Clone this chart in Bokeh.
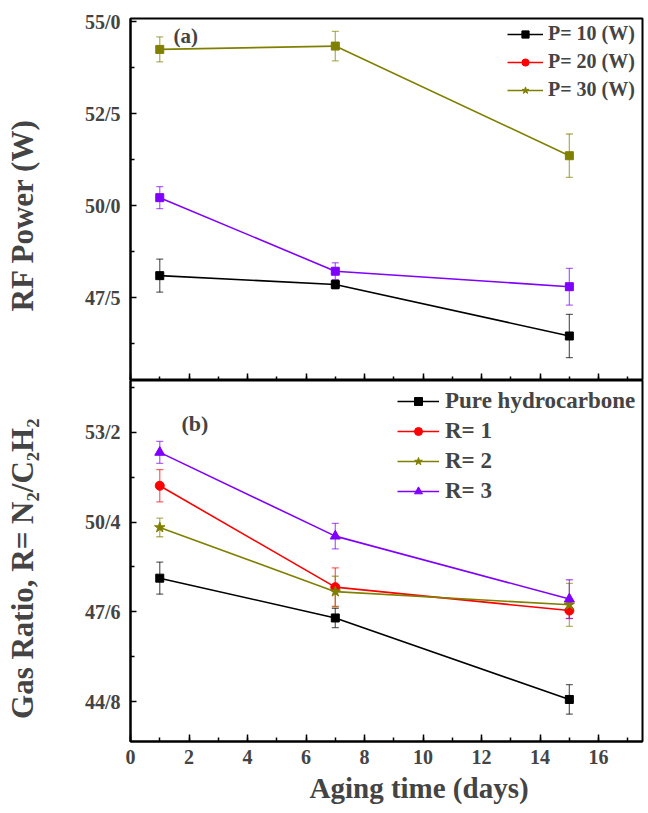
from bokeh.plotting import figure
from bokeh.models import (ColumnDataSource, Range1d, FixedTicker, SingleIntervalTicker,
                          CustomJSTickFormatter, Whisker, TeeHead, Legend, LegendItem,
                          Label, Title)
from bokeh.layouts import column
from bokeh.embed import file_html
from bokeh.resources import INLINE

# ---------------- data ----------------
days = [1, 7, 15]

power_labels = ["P= 10 (W)", "P= 20 (W)", "P= 30 (W)"]
p10 = [48.10, 47.86, 46.46]
p10_err = [0.45, 0.12, 0.59]
p20 = [50.22, 48.22, 47.80]
p20_err = [0.30, 0.23, 0.50]
p30 = [54.25, 54.34, 51.36]
p30_err = [0.34, 0.40, 0.59]

ratio_labels = ["Pure hydrocarbone", "R= 1", "R= 2", "R= 3"]
pure = [48.65, 47.41, 44.87]
pure_err = [0.50, 0.30, 0.46]
r1 = [51.53, 48.37, 47.64]
r1_err = [0.50, 0.60, 0.25]
r2 = [50.23, 48.23, 47.82]
r2_err = [0.29, 0.48, 0.67]
r3 = [52.57, 49.96, 48.00]
r3_err = [0.34, 0.40, 0.60]

top_ticks = [47.5, 50.0, 52.5, 55.0]
top_minor = [46.25, 48.75, 51.25, 53.75]
bot_ticks = [44.8, 47.6, 50.4, 53.2]
bot_minor = [46.2, 49.0, 51.8, 54.6]

x_title = "Aging time (days)"
top_ylabel = "RF Power (W)"
bot_ylabel = "Gas Ratio, R= N\u2082/C\u2082H\u2082"

# ---------------- style ----------------
FONT = "Liberation Serif"
BLACK = "#000000"
RED = "#ff0000"
OLIVE = "#808000"
PURPLE = "#8000ff"
NBSP = "\u00a0"

xr = Range1d(0, 17.5)
fmt = CustomJSTickFormatter(code="return tick.toFixed(1).replace('.', '/');")


def make_fig(height, yr, ticks, minor, b_top, b_bottom, ylabel):
    p = figure(width=648, height=height, x_range=xr, y_range=Range1d(*yr),
               output_backend="svg", toolbar_location=None,
               min_border_left=130, min_border_right=6,
               min_border_top=b_top, min_border_bottom=b_bottom)
    p.grid.visible = False
    p.outline_line_color = "black"
    p.outline_line_width = 2
    p.background_fill_color = "white"
    p.border_fill_color = "white"

    ya = p.yaxis[0]
    ya.ticker = FixedTicker(ticks=ticks, minor_ticks=minor)
    ya.formatter = fmt
    ya.axis_line_width = 2
    ya.major_tick_in = 6
    ya.major_tick_out = 0
    ya.minor_tick_in = 4
    ya.minor_tick_out = 0
    ya.major_tick_line_width = 1.5
    ya.minor_tick_line_width = 1.5
    ya.major_label_text_font = FONT
    ya.major_label_text_font_style = "bold"
    ya.major_label_text_font_size = "20px"
    ya.major_label_standoff = 10
    ya.axis_label = ylabel
    ya.axis_label_text_font = FONT
    ya.axis_label_text_font_style = "bold"
    ya.axis_label_text_font_size = "31px"
    ya.axis_label_standoff = 42

    xa = p.xaxis[0]
    xa.ticker = SingleIntervalTicker(interval=2, num_minor_ticks=2)
    xa.axis_line_width = 2
    xa.major_tick_in = 7
    xa.major_tick_out = 0
    xa.minor_tick_in = 4
    xa.minor_tick_out = 0
    xa.major_tick_line_width = 1.5
    xa.minor_tick_line_width = 1.5
    xa.major_label_text_font = FONT
    xa.major_label_text_font_style = "bold"
    xa.major_label_text_font_size = "20px"
    xa.major_label_standoff = 8
    return p


def series(p, y, err, color, marker, size, visible=True):
    src = ColumnDataSource(dict(x=days, y=y,
                                lo=[a - b for a, b in zip(y, err)],
                                hi=[a + b for a, b in zip(y, err)]))
    if visible:
        w = Whisker(source=src, base="x", lower="lo", upper="hi",
                    line_color=color, line_alpha=0.6, line_width=1.3,
                    upper_head=TeeHead(size=7, line_color=color, line_alpha=0.6, line_width=1.3),
                    lower_head=TeeHead(size=7, line_color=color, line_alpha=0.6, line_width=1.3))
        p.add_layout(w)
    ln = p.line("x", "y", source=src, line_color=color, line_width=1.6, visible=visible)
    sc = p.scatter("x", "y", source=src, marker=marker, size=size,
                   fill_color=color, line_color=color, visible=visible)
    return [ln, sc]


# ---------------- panel (a) ----------------
p1 = make_fig(380, (45.25, 55.09), top_ticks, top_minor, 18, 0,
              top_ylabel + NBSP * 4)
p1.xaxis[0].major_label_text_font_size = "1px"
p1.xaxis[0].major_label_text_color = None
p1.xaxis[0].major_label_standoff = 0

r10 = series(p1, p10, p10_err, BLACK, "square", 8)
series(p1, p20, p20_err, PURPLE, "square", 8)
series(p1, p30, p30_err, OLIVE, "square", 8)
# legend glyphs as printed in the original figure's key
k20 = series(p1, p20, p20_err, RED, "circle", 8, visible=False)
k30 = series(p1, p30, p30_err, OLIVE, "star", 9, visible=False)

leg1 = Legend(items=[LegendItem(label=lab, renderers=r)
                     for lab, r in zip(power_labels, [r10, k20, k30])],
              location=(377, 279), border_line_color=None, background_fill_alpha=0,
              label_text_font=FONT, label_text_font_style="bold", label_text_font_size="20px",
              glyph_width=36, glyph_height=18, label_height=22, spacing=5, padding=0,
              label_standoff=5, margin=0, inactive_fill_alpha=0)
p1.add_layout(leg1)
p1.add_layout(Label(x=1.47, y=54.62, text="(a)", text_font=FONT, text_font_style="bold",
                    text_font_size="21px", text_baseline="middle"))

# ---------------- panel (b) ----------------
p2 = make_fig(433, (43.56, 54.81), bot_ticks, bot_minor, 0, 72,
              bot_ylabel + NBSP * 2)

rs = [series(p2, pure, pure_err, BLACK, "square", 8),
      series(p2, r1, r1_err, RED, "circle", 9),
      series(p2, r2, r2_err, OLIVE, "star", 11),
      series(p2, r3, r3_err, PURPLE, "triangle", 10)]
leg2 = Legend(items=[LegendItem(label=lab, renderers=r) for lab, r in zip(ratio_labels, rs)],
              location=(267, 237), border_line_color=None, background_fill_alpha=0,
              label_text_font=FONT, label_text_font_style="bold", label_text_font_size="23px",
              glyph_width=42, glyph_height=20, label_height=26, spacing=4, padding=0,
              label_standoff=6, margin=0)
p2.add_layout(leg2)
p2.add_layout(Label(x=1.74, y=53.47, text="(b)", text_font=FONT, text_font_style="bold",
                    text_font_size="22px", text_baseline="middle"))
p2.add_layout(Title(text=x_title, align="left", offset=179, standoff=6,
                    text_font=FONT, text_font_style="bold", text_font_size="29px"), "below")

layout = column(p1, p2)
open("out.html", "w").write(file_html(layout, INLINE))
